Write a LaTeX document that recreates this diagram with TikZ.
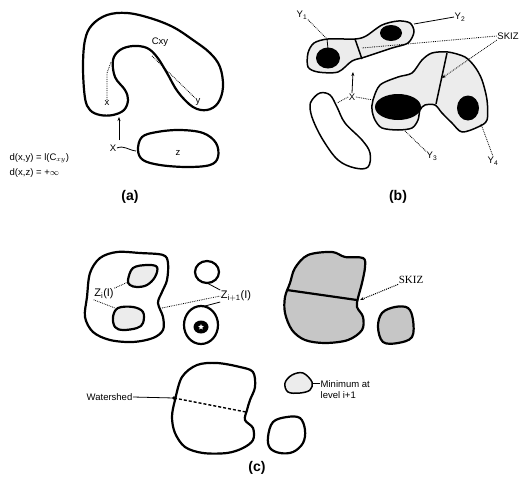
\documentclass[tikz,border=0pt]{standalone}
\usepackage{fontspec}
\setmainfont{Liberation Sans}
\newfontfamily\serifont{Liberation Serif}
\usetikzlibrary{arrows.meta,shapes.geometric}
\begin{document}
\begin{tikzpicture}[x=1pt,y=-1pt,
  blob/.style={line width=2.2pt, line join=round},
  thinblob/.style={line width=1.5pt, line join=round},
  lbl/.style={font=\fontsize{9.5}{11}\selectfont, inner sep=0.5pt},
  zlbl/.style={font=\fontsize{11}{12}\selectfont, inner sep=0.5pt},
  captxt/.style={font=\fontsize{14}{16}\selectfont\bfseries, inner sep=0pt},
  lead/.style={densely dotted, line width=0.8pt},
  solidlead/.style={line width=0.8pt},
  tip/.style={-{Stealth[length=4pt,width=3pt]}}]
\useasboundingbox (0,0) rectangle (530,493);

% ---------------- (a) ----------------
\draw[blob] plot[smooth cycle, tension=0.6] coordinates {(90,110) (85,98) (83,67) (85,40) (92,25) (107,15) (127,13) (150,18) (173,27) (193,40) (210,53) (220,67) (223,87) (218,103) (207,110) (193,107) (178,92) (167,73) (157,57) (147,48) (133,46) (120,50) (113,60) (115,77) (125,90) (128,100) (124,110) (113,115) (100,115)};
\draw[blob] plot[smooth cycle, tension=0.6] coordinates {(142,137) (157,132) (180,130) (203,133) (216,143) (218,157) (210,165) (187,167) (160,165) (143,160) (138,150)};

\node[lbl] (cxy) at (160,42) {Cxy};
\node[lbl] (xa) at (107,103) {x};
\node[lbl] (ya) at (198,102) {y};
\node[lbl] (za) at (178,153) {z};
\coordinate (xpath1) at (107,73);
\coordinate (xpath2) at (111,62);
\coordinate (ypath) at (152,56);
\draw[lead] (xa.north) -- (xpath1) -- (xpath2);
\draw[lead] (ypath) -- (ya.north west);

\node[lbl] (Xa) at (113,148) {X};
\coordinate (Xatop) at (119,117);
\coordinate (Xabot) at (119,140);
\coordinate (zleft) at (136,151);
\draw[tip, solidlead] (Xabot) -- (Xatop);
\draw[solidlead] (Xa.east) .. controls (124,145) and (128,150) .. (zleft);

\node[lbl, anchor=west] (dxy) at (9,158) {d(x,y) = l(C$_{xy}$)};
\node[lbl, anchor=west] (dxz) at (9,173) {d(x,z) = +$\infty$};
\node[captxt] (capa) at (130,197) {(a)};

% ---------------- (b) ----------------
\draw[thinblob, fill=gray!15] plot[smooth cycle, tension=0.5] coordinates {(308,53) (314,43) (328,39) (355,39) (366,36) (382,25) (398,21) (410,23) (414,32) (408,43) (392,48) (365,57) (352,61) (338,72) (318,72) (308,67)};
\fill[black] (328,58) ellipse [x radius=12, y radius=10.5];
\fill[black] (391,33) ellipse [x radius=11, y radius=8];
\draw[thinblob] (355,39) -- (362,59);
\draw[thinblob] plot[smooth cycle, tension=0.6] coordinates {(312,100) (320,93) (330,95) (337,107) (345,123) (362,140) (370,153) (368,167) (355,168) (338,160) (323,140) (313,120) (310,107)};
\draw[thinblob, fill=gray!15] plot[smooth cycle, tension=0.5] coordinates {(373,100) (380,85) (398,77) (412,73) (422,60) (432,53) (448,52) (465,57) (475,67) (482,80) (487,100) (487,120) (478,127) (462,132) (452,123) (442,113) (435,105) (425,105) (420,110) (418,120) (412,128) (398,130) (382,128) (375,120) (372,110)};
\fill[black] (398,107) ellipse [x radius=23, y radius=13];
\fill[black] (468,108) ellipse [x radius=11, y radius=12.5];
\draw[thinblob] (447,53) -- (436,104);

\node[lbl] (y1) at (302,15) {Y\textsubscript{1}};
\node[lbl] (y2) at (460,17) {Y\textsubscript{2}};
\node[lbl] (y3) at (432,156) {Y\textsubscript{3}};
\node[lbl] (y4) at (493,161) {Y\textsubscript{4}};
\node[lbl] (skizb) at (508,36) {SKIZ};
\node[lbl] (Xb) at (352,97) {X};

\coordinate (y1a) at (327,39);
\coordinate (y1b) at (328,49);
\draw[lead] (y1.south east) -- (y1a);
\draw[solidlead] (y1a) -- (y1b);
\coordinate (y2a) at (414,24);
\draw[solidlead] (y2.west) -- (y2a);
\coordinate (y3a) at (405,131);
\draw[lead] (y3a) -- (y3.north west);
\coordinate (y4a) at (481,124);
\draw[lead] (y4a) -- (y4.north);
\coordinate (skb1) at (362,48);
\coordinate (skb2) at (442,78);
\draw[lead] (skizb.west) -- (skb1);
\draw[lead, tip] (skizb.south west) -- (skb2);
\coordinate (xbl) at (337,103);
\coordinate (xbr) at (373,100);
\coordinate (xbt) at (353,72);
\draw[lead] (Xb.west) -- (xbl);
\draw[lead] (Xb.east) -- (xbr);
\draw[solidlead, tip] (Xb.north) -- (xbt);
\node[captxt] (capb) at (398,197) {(b)};

% ---------------- (c) top left ----------------
\draw[blob] plot[smooth cycle, tension=0.55] coordinates {(87,297) (90,273) (100,258) (117,252) (140,253) (163,255) (168,263) (167,280) (162,292) (158,303) (163,317) (163,330) (153,338) (133,342) (110,340) (93,332) (85,317)};
\draw[blob, fill=gray!15] plot[smooth cycle, tension=0.6] coordinates {(128,280) (133,268) (147,265) (157,267) (155,277) (147,285) (137,287) (130,285)};
\draw[blob, fill=gray!15] plot[smooth cycle, tension=0.6] coordinates {(113,317) (118,308) (133,307) (143,312) (143,323) (137,328) (123,330) (115,327)};
\draw[blob] (207,272) ellipse [x radius=12, y radius=11];
\draw[blob] (201,325) ellipse [x radius=17, y radius=19];
\fill[black] (201,327) ellipse [x radius=7.5, y radius=6.5];
\node[star, star points=5, star point ratio=2.2, fill=white, inner sep=0pt, minimum size=6pt] (stc) at (201,327) {};

\node[zlbl] (zi) at (104,294) {Z$_{\mathrm{i}}$(I)};
\node[zlbl] (zi1) at (236,296) {Z$_{\mathrm{i+1}}$(I)};
\coordinate (zia) at (128,282);
\coordinate (zib) at (115,308);
\draw[lead] (zi.north east) -- (zia);
\draw[lead] (zi.south west) -- (zib);
\coordinate (zic) at (162,308);
\draw[lead] (zic) -- (zi1.west);
\coordinate (zid) at (207,283);
\coordinate (zie) at (205,306);
\draw[solidlead] (zid) -- (zi1.north west);
\draw[solidlead] (zi1.south west) -- (zie);

% ---------------- (c) top right ----------------
\draw[blob, fill=gray!45] plot[smooth cycle, tension=0.55] coordinates {(290,283) (295,268) (308,255) (332,252) (345,257) (363,258) (365,267) (362,283) (358,298) (357,307) (363,317) (362,330) (348,340) (325,343) (305,340) (292,330) (285,313) (285,297)};
\draw[blob] (287,290) -- (357,300);
\draw[blob, fill=gray!45] plot[smooth cycle, tension=0.6] coordinates {(378,327) (382,313) (395,307) (408,308) (413,320) (412,337) (398,343) (383,342)};
\node[font=\serifont\fontsize{11}{12}\selectfont, inner sep=0.5pt] (skizc) at (411,280) {SKIZ};
\coordinate (skc) at (360,300);
\draw[lead, tip, line width=1pt] (skizc.south west) -- (skc);

% ---------------- (c) bottom ----------------
\draw[blob] plot[smooth cycle, tension=0.55] coordinates {(175,400) (182,377) (197,365) (217,363) (240,367) (253,372) (255,387) (250,400) (247,410) (245,420) (253,428) (253,440) (243,448) (227,453) (203,453) (185,447) (175,433) (172,417)};
\coordinate (wsl) at (174,398);
\coordinate (wsr) at (246,412);
\draw[densely dashed, line width=1.4pt] (wsl) -- (wsr);
\draw[thinblob, fill=gray!15] plot[smooth cycle, tension=0.6] coordinates {(285,383) (292,375) (303,373) (312,382) (310,390) (300,393) (288,392)};
\draw[blob] plot[smooth cycle, tension=0.6] coordinates {(268,437) (273,422) (287,417) (300,418) (305,430) (303,443) (293,452) (280,453) (270,448)};

\node[lbl, anchor=east] (ws) at (133,397) {Watershed};
\draw[solidlead] (ws.east) -- (wsl);
\fill (wsl) circle (1.8);
\node[lbl, anchor=west, align=left] (minl) at (320,390) {Minimum at\\level i+1};
\coordinate (minb) at (312,383);
\draw[solidlead] (minb) -- (minl.west |- minb);
\node[captxt] (capc) at (257,468) {(c)};
\end{tikzpicture}
\end{document}
